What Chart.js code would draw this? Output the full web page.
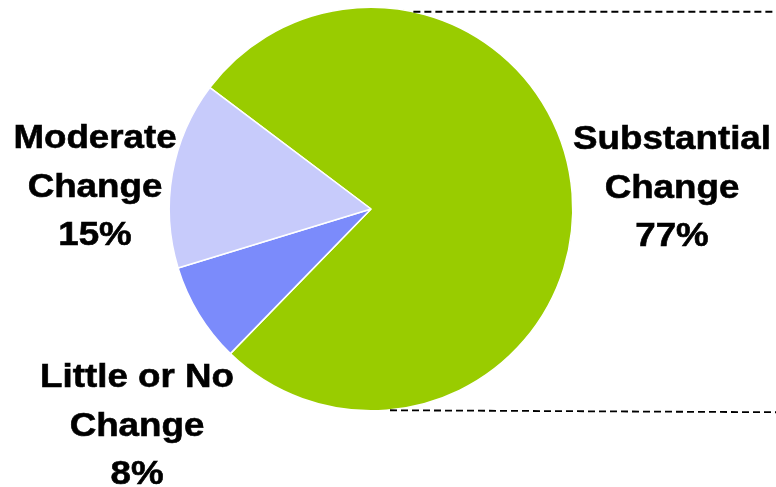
<!DOCTYPE html>
<html>
<head>
<meta charset="utf-8">
<script src="https://cdn.jsdelivr.net/npm/chart.js@4/dist/chart.umd.min.js"></script>
<style>
  html, body { margin: 0; padding: 0; background: #ffffff; }
  #wrap { width: 776px; height: 487px; }
</style>
</head>
<body>
<div id="wrap"><canvas id="changeChart" width="776" height="487"></canvas></div>
<script>
const categories = ["Substantial Change", "Little or No Change", "Moderate Change"];
const shares = [77, 8, 15];
const sliceColors = ["#99cc00", "#7b8bfb", "#c7cbfb"];

// label blocks: lines of text, anchor x and first baseline
const labelBlocks = [
    { lines: ["Substantial", "Change", shares[0] + "%"], x: 672, y: 149 },
    { lines: ["Little or No", "Change", shares[1] + "%"], x: 137, y: 387 },
    { lines: ["Moderate", "Change", shares[2] + "%"], x: 95, y: 148 }
];

const decorations = {
    id: "decorations",
    afterDatasetsDraw(chart) {
        const ctx = chart.ctx;
        const arc = chart.getDatasetMeta(0).data[0];
        const cx = arc.x, cy = arc.y, r = arc.outerRadius;

        // dashed connector lines
        ctx.save();
        ctx.strokeStyle = "#000000";
        ctx.lineWidth = 1.8;
        ctx.setLineDash([7, 4]);
        const topY = cy - r + 4.5;
        const topX = cx + Math.sqrt(r * r - (cy - topY) * (cy - topY));
        ctx.beginPath();
        ctx.moveTo(topX, topY);
        ctx.lineTo(chart.width, topY);
        ctx.stroke();
        ctx.beginPath();
        ctx.moveTo(cx + 19, cy + r - 0.5);
        ctx.lineTo(chart.width, cy + r + 1.5);
        ctx.stroke();
        ctx.restore();

        // slice labels
        ctx.save();
        ctx.fillStyle = "#000000";
        ctx.strokeStyle = "#000000";
        ctx.lineWidth = 0.6;
        ctx.font = "bold 34px 'Liberation Sans', Arial, sans-serif";
        ctx.textAlign = "center";
        ctx.textBaseline = "alphabetic";
        labelBlocks.forEach(b => {
            b.lines.forEach((line, i) => {
                ctx.save();
                ctx.translate(b.x, b.y + i * 48.5);
                ctx.scale(1.08, 1);
                ctx.fillText(line, 0, 0);
                ctx.strokeText(line, 0, 0);
                ctx.restore();
            });
        });
        ctx.restore();
    }
};

new Chart(document.getElementById("changeChart").getContext("2d"), {
    type: "pie",
    data: {
        labels: categories,
        datasets: [{
            data: shares,
            backgroundColor: sliceColors,
            borderColor: "#ffffff",
            borderWidth: 1.5
        }]
    },
    options: {
        responsive: false,
        animation: false,
        rotation: -53,
        layout: { padding: { left: 168.5, right: 202.5, top: 6.5, bottom: 75.5 } },
        plugins: {
            legend: { display: false },
            tooltip: { enabled: false }
        }
    },
    plugins: [decorations]
});
</script>
</body>
</html>
